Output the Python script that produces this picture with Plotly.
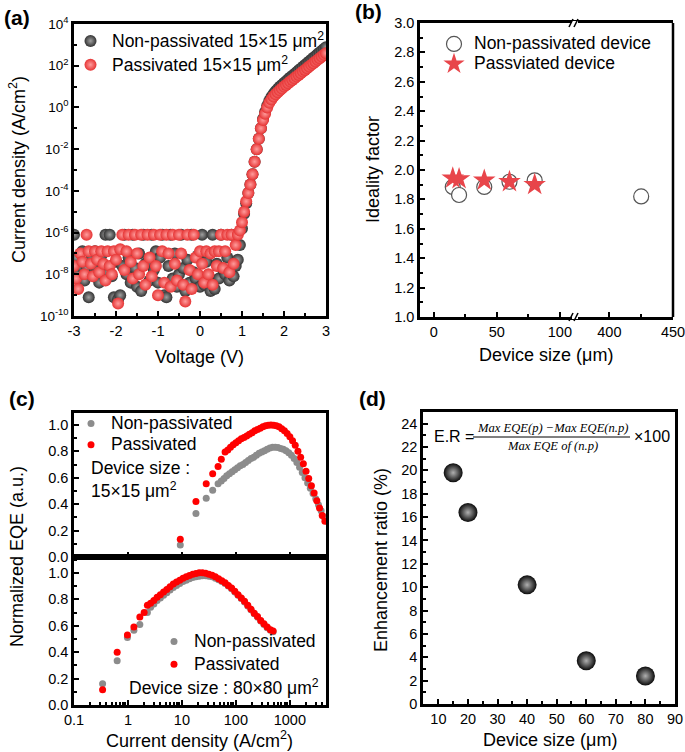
import numpy as np
import plotly.graph_objects as go

W, H = 685, 752
def px(x): return x / W
def py(y): return 1 - y / H

# ---------------- (a) J-V data ----------------
voltage = np.round(np.arange(-3.0, 3.0001, 0.05), 2)
logJ_nonpass = [
    -6.1, -7.2, -8.0, -7.6, -6.9, -8.3, -7.7, -9.1, -7.3, -8.0,
    -6.9, -7.8, -8.4, -7.1, -7.6, -6.1, -7.9, -6.1, -8.1, -9.1,
    -7.4, -9.2, -9.0, -7.6, -6.1, -8.0, -7.2, -8.4, -6.1, -7.7,
    -8.6, -7.0, -8.8, -6.1, -7.5, -7.4, -8.3, -6.1, -7.8, -6.9,
    -8.4, -7.2, -6.1, -9.0, -9.1, -7.6, -6.1, -8.2, -7.0, -8.6,
    -8.0, -6.1, -7.7, -8.8, -7.3, -8.4, -6.1, -7.9, -8.2, -7.1,
    -8.6, -6.1, -8.5, -7.4, -8.1, -8.8, -6.1, -8.7, -7.5, -8.2,
    -6.1, -7.8, -8.0, -7.2, -8.3, -6.1, -8.1, -7.6, -7.3,
    -6.6, -5.8, -5.1, -4.6, -4.1, -3.7, -3.2, -2.6, -2.0, -1.5,
    -1.0, -0.55, -0.22, 0.08, 0.32, 0.5, 0.65, 0.78, 0.89, 0.99,
    1.08, 1.17, 1.26, 1.35, 1.43, 1.52, 1.6, 1.69, 1.78, 1.86,
    1.95, 2.03, 2.12, 2.2, 2.29, 2.38, 2.46, 2.55, 2.63, 2.72,
    2.8, 2.89]
logJ_pass = [
    -7.6, -8.2, -8.7, -7.0, -7.4, -8.0, -6.1, -6.9, -7.5, -8.1,
    -6.9, -7.3, -7.9, -6.9, -7.5, -8.3, -6.9, -7.6, -8.0, -6.9,
    -7.3, -9.4, -6.8, -6.1, -7.8, -6.9, -6.1, -7.4, -8.2, -6.1,
    -7.0, -8.0, -6.1, -7.6, -8.5, -6.1, -7.2, -8.1, -6.1, -7.6,
    -9.0, -6.1, -6.9, -8.4, -6.1, -7.0, -8.6, -6.1, -7.5, -8.3,
    -6.1, -7.0, -8.5, -9.3, -6.1, -7.8, -8.7, -6.1, -7.2, -8.0,
    -6.9, -7.5, -8.4, -6.9, -8.0, -7.0, -8.5, -6.9, -7.6, -6.9,
    -6.1, -7.7, -6.9, -6.1, -7.9, -6.1, -7.5, -6.6, -6.1,
    -5.9, -5.5, -5.0, -4.5, -4.1, -3.7, -3.2, -2.6, -2.0, -1.5,
    -1.0, -0.6, -0.3, 0.0, 0.22, 0.38, 0.52, 0.63, 0.73, 0.82,
    0.91, 1.0, 1.08, 1.16, 1.24, 1.32, 1.4, 1.48, 1.56, 1.64,
    1.72, 1.8, 1.88, 1.96, 2.04, 2.12, 2.2, 2.28, 2.36, 2.44,
    2.52, 2.6]
J_nonpass = [10 ** v for v in logJ_nonpass]
J_pass = [10 ** v for v in logJ_pass]

# ---------------- (b) ideality factor ----------------
size_nonpass_b = [15, 20, 40, 60, 80, 425]
ideality_nonpass = [1.885, 1.83, 1.885, 1.92, 1.93, 1.82]
size_pass_b = [15, 20, 40, 60, 80]
ideality_pass = [1.945, 1.94, 1.93, 1.92, 1.90]

# ---------------- (c) normalized EQE ----------------
logJc_top_np = [0.97, 1.26, 1.45, 1.57, 1.67, 1.73, 1.78, 1.83, 1.88, 1.93,
                1.98, 2.03, 2.08, 2.13, 2.18, 2.23, 2.28, 2.33, 2.38, 2.43,
                2.48, 2.53, 2.58, 2.63, 2.68, 2.73, 2.78, 2.83, 2.88, 2.93,
                2.98, 3.03, 3.08, 3.13, 3.18, 3.23, 3.28, 3.33, 3.38, 3.43,
                3.48, 3.53, 3.58, 3.63, 3.66]
eqe_top_np = [0.09, 0.33, 0.445, 0.505, 0.555, 0.575, 0.595, 0.615, 0.63, 0.645,
              0.66, 0.675, 0.69, 0.70, 0.715, 0.73, 0.745, 0.755, 0.77, 0.785,
              0.795, 0.805, 0.815, 0.825, 0.83, 0.83, 0.828, 0.822, 0.815, 0.805,
              0.79, 0.77, 0.745, 0.715, 0.68, 0.64, 0.60, 0.56, 0.52, 0.48,
              0.44, 0.395, 0.35, 0.305, 0.28]
logJc_top_p = [0.97, 1.26, 1.45, 1.57, 1.67, 1.73, 1.80, 1.85, 1.90, 1.95,
               2.00, 2.05, 2.10, 2.15, 2.20, 2.25, 2.30, 2.35, 2.40, 2.45,
               2.50, 2.55, 2.60, 2.65, 2.70, 2.75, 2.80, 2.85, 2.90, 2.95,
               3.00, 3.05, 3.10, 3.15, 3.20, 3.25, 3.30, 3.35, 3.40, 3.45,
               3.50, 3.55, 3.60, 3.65]
eqe_top_p = [0.135, 0.42, 0.555, 0.63, 0.685, 0.74, 0.795, 0.81, 0.83, 0.85,
             0.865, 0.88, 0.895, 0.905, 0.915, 0.93, 0.94, 0.955, 0.965, 0.975,
             0.985, 0.993, 0.998, 1.0, 0.998, 0.993, 0.985, 0.97, 0.955, 0.935,
             0.91, 0.88, 0.845, 0.80, 0.755, 0.705, 0.65, 0.595, 0.54, 0.485,
             0.425, 0.37, 0.315, 0.27]
logJc_bot_np = [-0.47, -0.2, -0.01, 0.11, 0.22, 0.36, 0.42, 0.48, 0.54, 0.60,
                0.66, 0.72, 0.78, 0.84, 0.90, 0.96, 1.02, 1.08, 1.14, 1.20,
                1.26, 1.32, 1.38, 1.44, 1.50, 1.56, 1.62, 1.68, 1.74, 1.80,
                1.86, 1.92, 1.98, 2.04, 2.10, 2.16, 2.22, 2.28, 2.34, 2.40,
                2.46, 2.52, 2.58, 2.64, 2.69]
eqe_bot_np = [0.16, 0.335, 0.51, 0.565, 0.61, 0.70, 0.74, 0.765, 0.79, 0.81,
              0.83, 0.85, 0.87, 0.89, 0.905, 0.92, 0.935, 0.945, 0.955, 0.965,
              0.97, 0.975, 0.978, 0.978, 0.975, 0.97, 0.96, 0.948, 0.935, 0.92,
              0.90, 0.88, 0.855, 0.83, 0.805, 0.78, 0.75, 0.72, 0.69, 0.665,
              0.635, 0.61, 0.585, 0.565, 0.555]
logJc_bot_p = [-0.47, -0.2, -0.01, 0.11, 0.22, 0.30, 0.36, 0.42, 0.48, 0.54,
               0.60, 0.66, 0.72, 0.78, 0.84, 0.90, 0.96, 1.02, 1.08, 1.14,
               1.20, 1.26, 1.32, 1.38, 1.44, 1.50, 1.56, 1.62, 1.68, 1.74,
               1.80, 1.86, 1.92, 1.98, 2.04, 2.10, 2.16, 2.22, 2.28, 2.34,
               2.40, 2.46, 2.52, 2.58, 2.64, 2.69]
eqe_bot_p = [0.115, 0.40, 0.53, 0.59, 0.665, 0.70, 0.755, 0.77, 0.79, 0.815,
             0.835, 0.855, 0.875, 0.895, 0.915, 0.93, 0.945, 0.96, 0.97, 0.98,
             0.99, 0.995, 1.0, 1.0, 0.997, 0.99, 0.982, 0.97, 0.955, 0.94,
             0.925, 0.905, 0.885, 0.86, 0.835, 0.81, 0.785, 0.755, 0.725, 0.695,
             0.67, 0.64, 0.615, 0.59, 0.57, 0.56]

# ---------------- (d) enhancement ratio ----------------
size_d = [15, 20, 40, 60, 80]
enh_ratio = [19.8, 16.4, 10.2, 3.7, 2.4]

FONT = "Arial, Liberation Sans, sans-serif"
RED_A = "#e63434"
GRAY_C = "#8c8c8c"
RED_C = "#ff0000"
TXT = 17.5

def big(s, size=TXT):
    return '<span style="font-size:%spx">%s</span>' % (size, s)

fig = go.Figure()

# (a)
fig.add_trace(go.Scatter(x=voltage, y=J_nonpass, mode="markers", xaxis="x", yaxis="y",
    name=big("Non-passivated 15×15 μm<sup>2</sup>"), legend="legend",
    marker=dict(size=12, color="#333333", line=dict(width=0),
                gradient=dict(type="radial", color="#a0a0a0"))))
fig.add_trace(go.Scatter(x=voltage, y=J_pass, mode="markers", xaxis="x", yaxis="y",
    name=big("Passivated 15×15 μm<sup>2</sup>"), legend="legend",
    marker=dict(size=12, color=RED_A, line=dict(width=0),
                gradient=dict(type="radial", color="#ff9c9c"))))

# (b)
fig.add_trace(go.Scatter(x=size_nonpass_b[:5], y=ideality_nonpass[:5], mode="markers",
    xaxis="x2", yaxis="y2", name=big("Non-passivated device"), legend="legend2",
    marker=dict(size=15, symbol="circle", color="white", line=dict(width=1.2, color="#555555"))))
fig.add_trace(go.Scatter(x=size_nonpass_b[5:], y=ideality_nonpass[5:], mode="markers",
    xaxis="x3", yaxis="y2", showlegend=False,
    marker=dict(size=15, symbol="circle", color="white", line=dict(width=1.2, color="#555555"))))
fig.add_trace(go.Scatter(x=size_pass_b, y=ideality_pass, mode="markers",
    xaxis="x2", yaxis="y2", name=big("Passviated device"), legend="legend2",
    marker=dict(size=17, symbol="star", color="#e8454a", line=dict(width=0))))

# (c) top
fig.add_trace(go.Scatter(x=[10 ** v for v in logJc_top_np], y=eqe_top_np, mode="markers",
    xaxis="x4", yaxis="y4", name=big("Non-passivated"), legend="legend3",
    marker=dict(size=7, color=GRAY_C, line=dict(width=0))))
fig.add_trace(go.Scatter(x=[10 ** v for v in logJc_top_p], y=eqe_top_p, mode="markers",
    xaxis="x4", yaxis="y4", name=big("Passivated"), legend="legend3",
    marker=dict(size=7, color=RED_C, line=dict(width=0))))
# (c) bottom
fig.add_trace(go.Scatter(x=[10 ** v for v in logJc_bot_np], y=eqe_bot_np, mode="markers",
    xaxis="x5", yaxis="y5", name=big("Non-passivated"), legend="legend4",
    marker=dict(size=7, color=GRAY_C, line=dict(width=0))))
fig.add_trace(go.Scatter(x=[10 ** v for v in logJc_bot_p], y=eqe_bot_p, mode="markers",
    xaxis="x5", yaxis="y5", name=big("Passivated"), legend="legend4",
    marker=dict(size=7, color=RED_C, line=dict(width=0))))

# (d)
fig.add_trace(go.Scatter(x=size_d, y=enh_ratio, mode="markers", xaxis="x6", yaxis="y6",
    showlegend=False,
    marker=dict(size=19, color="#0a0a0a", line=dict(width=0),
                gradient=dict(type="radial", color="#b0b0b0"))))

ax = dict(showline=True, linecolor="black", linewidth=2.5, ticks="inside", ticklen=5,
          tickwidth=2, tickcolor="black", showgrid=False, zeroline=False, automargin=False,
          ticklabeloverflow="allow",
          tickfont=dict(family=FONT, size=14.5, color="black"))
MINOR = dict(ticks="inside", ticklen=3, tickwidth=1.5, tickcolor="black")

def axis(**kw):
    d = dict(ax)
    d.update(kw)
    return d

def minor(**kw):
    d = dict(MINOR)
    d.update(kw)
    return d

lay = dict(width=W, height=H, autosize=False, margin=dict(l=0, r=0, t=0, b=0, pad=0),
           template="none",
           plot_bgcolor="white", paper_bgcolor="white", font=dict(family=FONT, color="black"))

# (a) axes
lay["xaxis"] = axis(domain=[px(74), px(326)], anchor="y", range=[-3, 3], tickvals=[-3, -2, -1, 0, 1, 2, 3],
                    ticktext=["-3", "-2", "-1", "0", "1", "2", "3"], mirror=True,
                    minor=minor(tickvals=[-2.5, -1.5, -0.5, 0.5, 1.5, 2.5]))
lay["yaxis"] = axis(domain=[py(316), py(24)], anchor="x", type="log", range=[-10, 4],
                    tickvals=[1e-10, 1e-8, 1e-6, 1e-4, 1e-2, 1, 1e2, 1e4],
                    ticktext=["10<sup>-10</sup>", "10<sup>-8</sup>", "10<sup>-6</sup>", "10<sup>-4</sup>",
                              "10<sup>-2</sup>", "10<sup>0</sup>", "10<sup>2</sup>", "10<sup>4</sup>"],
                    tickfont=dict(family=FONT, size=13.5, color="black"), mirror=True,
                    minor=minor(tickvals=[1e-9, 1e-7, 1e-5, 1e-3, 1e-1, 1e1, 1e3]))
# (b) axes
lay["xaxis2"] = axis(domain=[px(420), px(575)], anchor="y2", range=[-11, 112], tickvals=[0, 50, 100], mirror=True,
                     minor=minor(tickvals=[25, 75]))
lay["xaxis3"] = axis(domain=[px(575), px(673)], anchor="y2", range=[373, 450], tickvals=[400, 450], mirror=True,
                     minor=minor(tickvals=[425]))
lay["yaxis2"] = axis(domain=[py(317), py(23)], anchor="x2", range=[1, 3],
                     tickvals=[1.0, 1.2, 1.4, 1.6, 1.8, 2.0, 2.2, 2.4, 2.6, 2.8, 3.0], tickformat=".1f",
                     minor=minor(dtick=0.1))
# (c) axes
logminor = [m * 10 ** e for e in range(-1, 4) for m in range(2, 10)]
lay["xaxis4"] = axis(domain=[px(74), px(326)], anchor="y4", type="log", range=[-1, 3.67], mirror=True,
                     tickvals=[0.1, 1, 10, 100, 1000], showticklabels=False,
                     minor=minor(tickvals=logminor))
lay["yaxis4"] = axis(domain=[py(557), py(413)], anchor="x4", range=[0, 1.09], mirror=True,
                     tickvals=[0, 0.2, 0.4, 0.6, 0.8, 1.0], tickformat=".1f",
                     minor=minor(dtick=0.1))
lay["xaxis5"] = axis(domain=[px(74), px(326)], anchor="y5", type="log", range=[-1, 3.67], mirror=True,
                     tickvals=[0.1, 1, 10, 100, 1000], ticktext=["0.1", "1", "10", "100", "1000"],
                     minor=minor(tickvals=logminor))
lay["yaxis5"] = axis(domain=[py(705), py(557)], anchor="x5", range=[0, 1.12], mirror=True,
                     tickvals=[0, 0.2, 0.4, 0.6, 0.8, 1.0], tickformat=".1f",
                     minor=minor(dtick=0.1))
# (d) axes
lay["xaxis6"] = axis(domain=[px(423), px(675)], anchor="y6", range=[4.8, 90], mirror=True,
                     tickvals=[10, 20, 30, 40, 50, 60, 70, 80, 90],
                     minor=minor(dtick=5))
lay["yaxis6"] = axis(domain=[py(704), py(412)], anchor="x6", range=[0, 25], mirror=True,
                     tickvals=list(range(0, 25, 2)),
                     minor=minor(dtick=1))

def leg(x, y, fs, iw=30):
    return dict(x=px(x), y=py(y), xanchor="left", yanchor="top", bgcolor="rgba(0,0,0,0)", borderwidth=0,
                itemwidth=iw, font=dict(family=FONT, size=fs, color="black"))
lay["legend"] = leg(69, 24, 16, iw=33)
lay["legend2"] = leg(434, 29, 13)
lay["legend3"] = leg(71, 408, 14)
lay["legend4"] = leg(154, 625, 15.3)

fig.update_layout(**lay)

ann = []
def text(x, y, s, size=18, xanchor="center", yanchor="middle", angle=0, bold=False, family=FONT):
    ann.append(dict(x=px(x), y=py(y), xref="paper", yref="paper", text=("<b>%s</b>" % s if bold else s),
                    showarrow=False, xanchor=xanchor, yanchor=yanchor, textangle=angle,
                    font=dict(family=family, size=size, color="black")))

text(2, 18, "(a)", size=21, xanchor="left", bold=True)
text(353, 12, "(b)", size=21, xanchor="left", bold=True)
text(7, 398, "(c)", size=21, xanchor="left", bold=True)
text(357, 398, "(d)", size=21, xanchor="left", bold=True)

text(17, 170, "Current density (A/cm<sup>2</sup>)", angle=-90)
text(200, 357, "Voltage (V)")
text(373, 170, "Ideality factor", angle=-90)
text(546, 355, "Device size (μm)")
text(17, 557, "Normalized EQE (a.u.)", angle=-90)
text(200, 739.5, "Current density (A/cm<sup>2</sup>)")
text(381, 560, "Enhancement ratio (%)", angle=-90)
text(550, 740, "Device size (μm)")

text(89, 468, "Device size :", size=TXT, xanchor="left")
text(89, 490, "15×15 μm<sup>2</sup>", size=TXT, xanchor="left")
text(127, 687, "Device size : 80×80 μm<sup>2</sup>", size=TXT, xanchor="left")

# formula
SERIF = "Liberation Serif, DejaVu Serif, serif"
text(432, 437, "E.R =", size=16, xanchor="left")
text(552, 428, "<i>Max EQE(p) −Max EQE(n.p)</i>", size=12.6, family=SERIF)
text(552, 446, "<i>Max EQE of (n.p)</i>", size=12.6, family=SERIF)
text(632, 437, "×100", size=16, xanchor="left")

fig.update_layout(annotations=ann)

shapes = []
def pline(x0, y0, x1, y1, w=1.2, c="black"):
    shapes.append(dict(type="line", xref="paper", yref="paper", x0=px(x0), y0=py(y0), x1=px(x1), y1=py(y1),
                       line=dict(color=c, width=w)))
# formula bar
pline(473, 437, 630, 437, w=1)
# (b) right border
pline(673, 23, 673, 317, w=2.5)
# break marks
for yb in (23, 317):
    shapes.append(dict(type="rect", xref="paper", yref="paper", x0=px(572), x1=px(578), y0=py(yb + 2), y1=py(yb - 2),
                       line=dict(width=0), fillcolor="white"))
    pline(569, yb + 4, 573, yb - 4, w=1.5)
    pline(574, yb + 4, 578, yb - 4, w=1.5)
fig.update_layout(shapes=shapes)

fig.write_html("out.html", config={"displayModeBar": False},
               post_script="document.body.style.margin='0';document.body.style.overflow='hidden';")
